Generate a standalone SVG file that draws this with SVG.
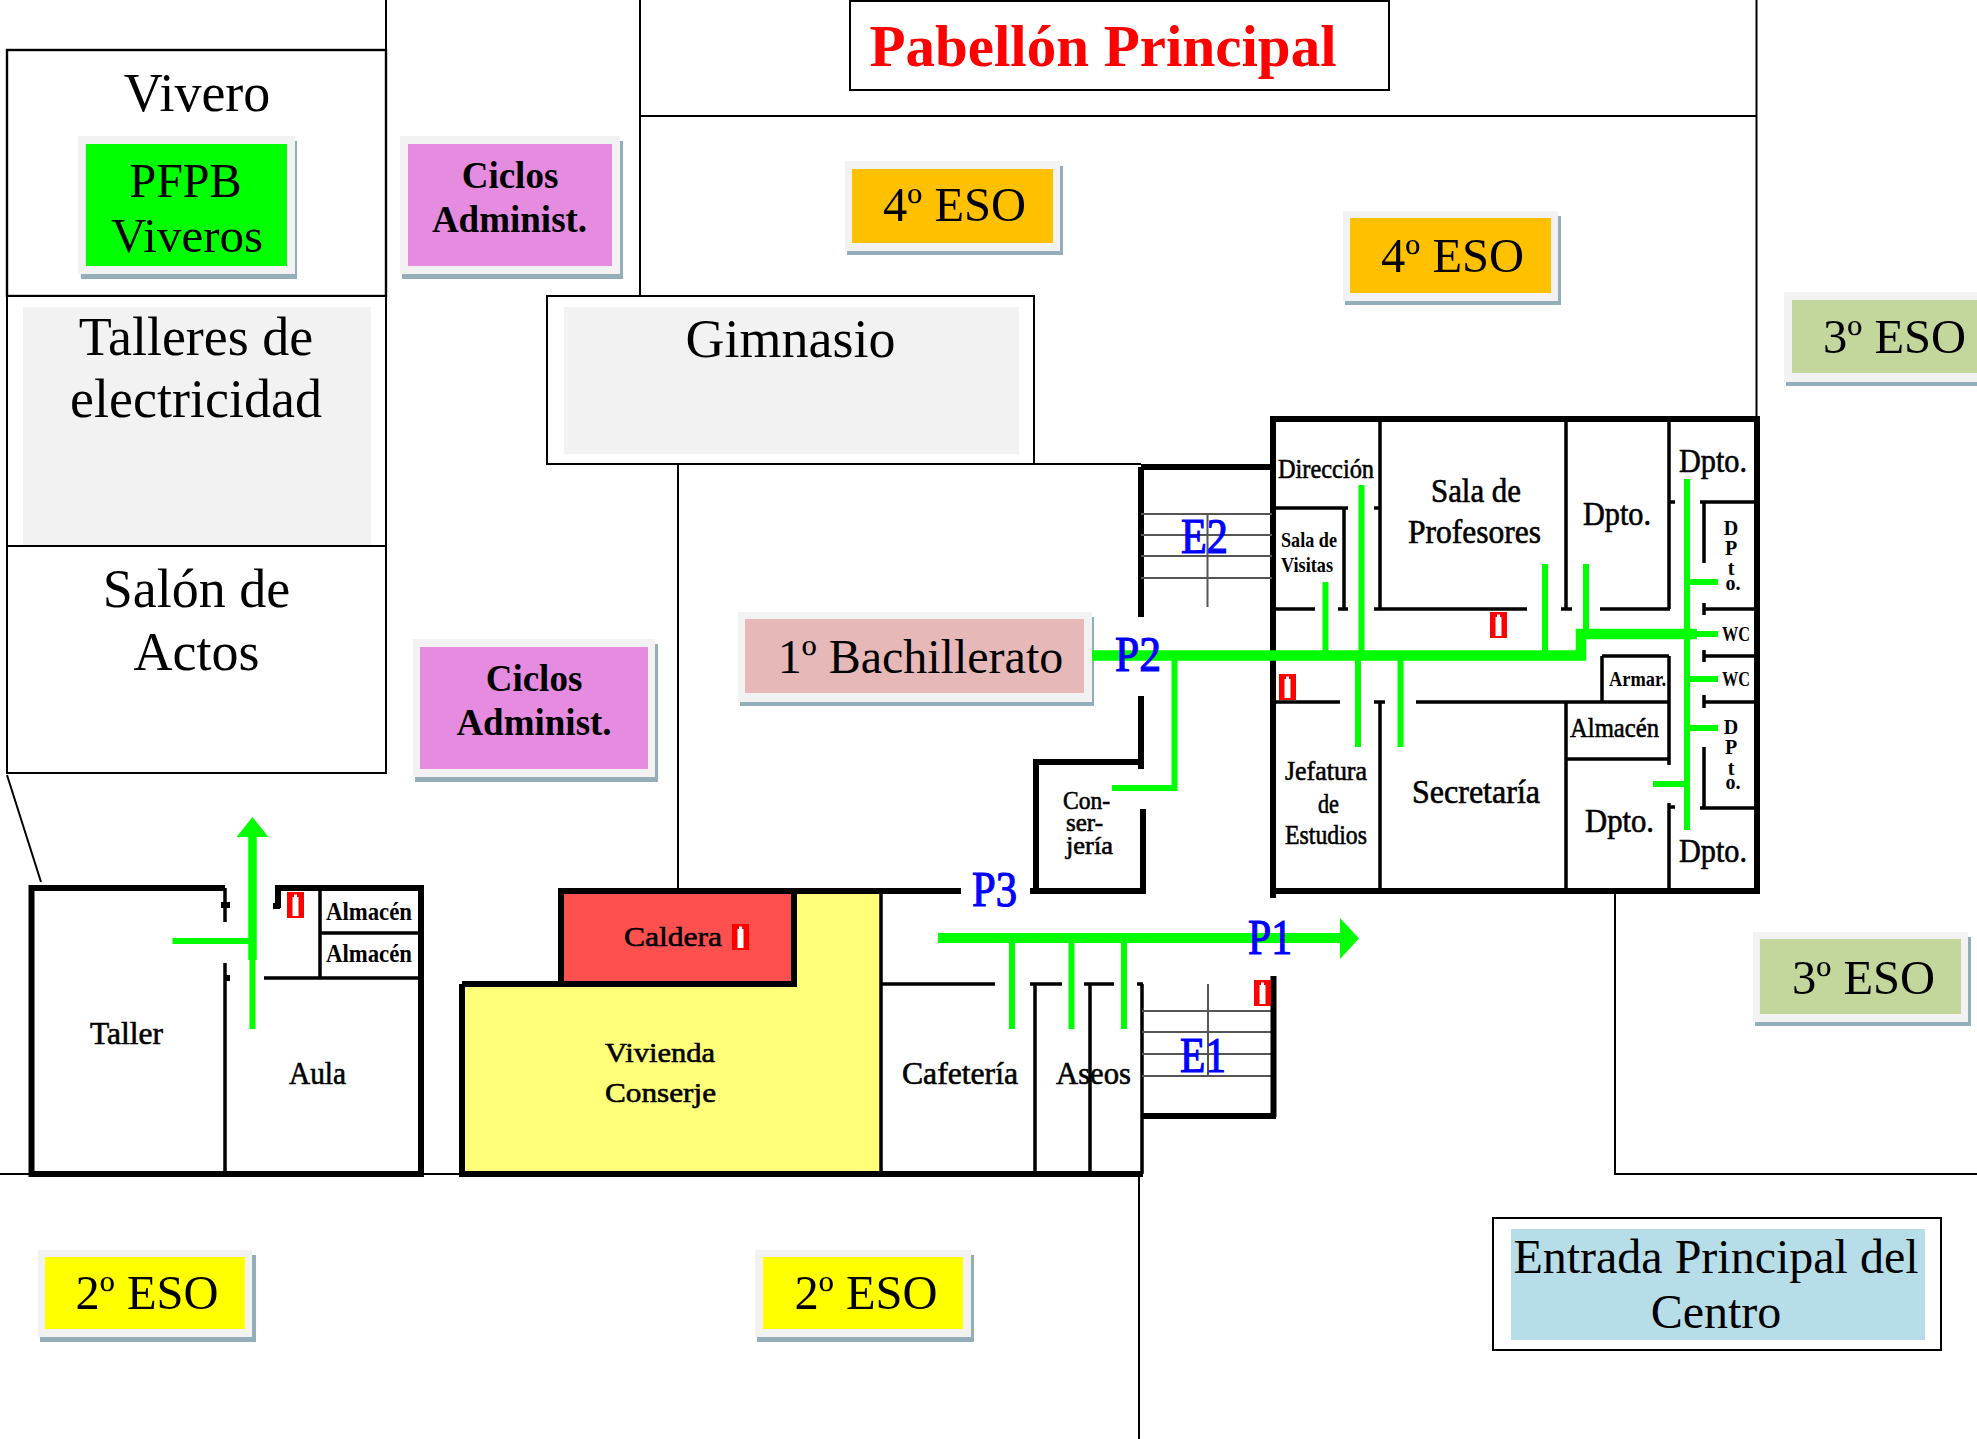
<svg xmlns="http://www.w3.org/2000/svg" width="1977" height="1439" viewBox="0 0 1977 1439">
<style>
text{font-family:"Liberation Serif","Times New Roman",serif;fill:#000}
.c{text-anchor:middle}
.b{font-weight:bold}
.big{font-size:54px}
.eso{font-size:48.5px;text-anchor:middle}
.ciclos{font-size:37px;font-weight:bold;text-anchor:middle}
.plan{font-size:28px;stroke:#000;stroke-width:.6}
.small{font-size:24px;font-weight:bold}
.blue{font-size:50px;fill:#0000ff;stroke:#0000ff;stroke-width:1.2}
.dp{font-size:20px;font-weight:bold;text-anchor:middle}
.line{fill:none;stroke:#000;stroke-width:2}
.wall{fill:none;stroke:#000;stroke-width:3.5}
.thick{fill:none;stroke:#000;stroke-width:6}
.step{fill:none;stroke:#555;stroke-width:2}
.g1{fill:none;stroke:#00ff00;stroke-width:6}
.g2{fill:none;stroke:#00ff00;stroke-width:10.5}
.frame{fill:#f2f2f2}
.shadow{fill:#93aeb9}
</style>
<defs>
<g id="ext"><rect x="0" y="0" width="17" height="26" fill="#ff0000"/><rect x="5.500" y="5" width="6" height="19" fill="#fff"/><rect x="7" y="2.500" width="3" height="3" fill="#fff"/></g>
</defs>
<rect width="1977" height="1439" fill="#fff"/>

<g id="site-lines">
<path class="line" d="M386 0V50M640 0V296M640 116H1756.500M1756.500 0V418M678 464V891M1034 464H1141M7 775L41 882M0 1174H31M421 1174H462M1139 1174V1439M1615 893V1174H1977"/>
</g>

<g id="pabellon">
<rect x="850" y="1" width="539" height="89" fill="#fff" stroke="#000" stroke-width="2"/>
<text class="b c" x="1103" y="66" font-size="59" style="fill:#ff0000">Pabellón Principal</text>
</g>

<g id="vivero">
<rect x="7" y="50" width="379" height="246" fill="#fff" stroke="#000" stroke-width="2.4"/>
<text class="c" x="197" y="111" font-size="54">Vivero</text>
</g>
<g id="pfpb">
<rect class="shadow" x="81" y="141" width="216" height="138"/><rect class="frame" x="78" y="136" width="217" height="138"/><rect x="86" y="144" width="201" height="122" fill="#00ff00"/>
<text class="c" x="185.500" y="197" font-size="48">PFPB</text><text class="c" x="187" y="252" font-size="49">Viveros</text>
</g>
<g id="talleres">
<rect x="7" y="296" width="379" height="250" fill="#fff" stroke="#000" stroke-width="2"/>
<rect class="frame" x="23" y="307" width="348" height="238"/>
<text class="big c" x="196" y="355">Talleres de</text><text class="big c" x="196" y="417">electricidad</text>
</g>
<g id="salon">
<rect x="7" y="546" width="379" height="227" fill="#fff" stroke="#000" stroke-width="2"/>
<text class="big c" x="196.500" y="606.500">Salón de</text><text class="big c" x="196.500" y="669.500">Actos</text>
</g>
<g id="ciclos-1">
<rect class="shadow" x="402" y="141" width="221" height="138"/><rect class="frame" x="400" y="136" width="220" height="138"/><rect x="408" y="144" width="204" height="122" fill="#e68ce0"/>
<text class="ciclos" x="510" y="188">Ciclos</text><text class="ciclos" x="509.500" y="232">Administ.</text>
</g>
<g id="ciclos-2">
<rect class="shadow" x="415" y="644" width="243" height="138"/><rect class="frame" x="413" y="639" width="242" height="138"/><rect x="420" y="647" width="228" height="122" fill="#e68ce0"/>
<text class="ciclos" x="534" y="691">Ciclos</text><text class="ciclos" x="534" y="735">Administ.</text>
</g>
<g id="gimnasio">
<rect x="547" y="296" width="487" height="168" fill="#fff" stroke="#000" stroke-width="2"/>
<rect class="frame" x="564" y="307" width="455" height="147"/>
<text class="big c" x="790.500" y="356.500">Gimnasio</text>
</g>
<g id="eso4-a">
<rect class="shadow" x="847" y="166" width="216" height="89"/><rect class="frame" x="845" y="161" width="215" height="90"/><rect x="852" y="169" width="201" height="74" fill="#ffc000"/>
<text class="eso" x="954.500" y="221">4º ESO</text>
</g>
<g id="eso4-b">
<rect class="shadow" x="1345" y="216" width="216" height="89"/><rect class="frame" x="1343" y="211" width="215" height="90"/><rect x="1350" y="218" width="201" height="75" fill="#ffc000"/>
<text class="eso" x="1452.500" y="271.500">4º ESO</text>
</g>
<g id="eso3-a">
<rect class="shadow" x="1786" y="297" width="191" height="89"/><rect class="frame" x="1784" y="292" width="193" height="90"/><rect x="1792" y="300" width="185" height="73" fill="#c3d69b"/>
<text class="eso" x="1894.500" y="353">3º ESO</text>
</g>
<g id="eso3-b">
<rect class="shadow" x="1755" y="937" width="216" height="89"/><rect class="frame" x="1753" y="932" width="215" height="90"/><rect x="1760" y="939" width="201" height="75" fill="#c3d69b"/>
<text class="eso" x="1863.500" y="993.500">3º ESO</text>
</g>
<g id="bachillerato">
<rect class="shadow" x="740" y="617" width="354" height="89"/><rect class="frame" x="738" y="612" width="354" height="90"/><rect x="745" y="619" width="339" height="74" fill="#e6b9b8"/>
<text class="c" x="920.500" y="673" font-size="48">1º Bachillerato</text>
</g>
<g id="eso2-a">
<rect class="shadow" x="40" y="1255" width="216" height="87"/><rect class="frame" x="38" y="1250" width="214" height="87"/><rect x="45" y="1257" width="200" height="72" fill="#ffff00"/>
<text class="eso" x="147" y="1308.500">2º ESO</text>
</g>
<g id="eso2-b">
<rect class="shadow" x="757" y="1255" width="217" height="87"/><rect class="frame" x="755" y="1250" width="216" height="87"/><rect x="763" y="1257" width="200" height="72" fill="#ffff00"/>
<text class="eso" x="866" y="1308.500">2º ESO</text>
</g>
<g id="entrada">
<rect x="1493" y="1218" width="448" height="132" fill="#fff" stroke="#000" stroke-width="2"/>
<rect x="1511" y="1229" width="414" height="111" fill="#b7dde8"/>
<text class="c" x="1716" y="1272.500" font-size="48">Entrada Principal del</text><text class="c" x="1716" y="1328" font-size="48">Centro</text>
</g>

<g id="taller-block">
<path class="thick" d="M225 888H31.500V1174H421V888H278V908"/>
<path class="wall" d="M225 888V922M225 963V1174M264 978H421M320 888V978M320 933H421"/>
<path class="thick" d="M221 905H230M225 978H230M273 906H280"/>
</g>
<g id="vivienda-caldera">
<path d="M462 984H561V891H881V1174H462Z" fill="#ffff79"/>
<path d="M561 984V891H794V984Z" fill="#ff5050"/>
<path class="thick" d="M561 984V891H961M1030 891H1143V809M1141 769V762H1036V891M462 984V1174H1143M462 984H794V891"/>
<path class="wall" d="M881 891V1174M881 984H995M1030 984H1062M1084 984H1114M1137 984H1143M1035 984V1172M1090 984V1172M1142 984V1174"/>
<path class="thick" d="M1141 467H1272M1141 467V617M1141 696V769"/>
</g>
<g id="office-block">
<path class="thick" d="M1273 419H1757V891H1273ZM1273 891V898"/>
<path class="wall" d="M1273 508H1348M1344 508V609M1374 508H1380M1380 419V609M1566 419V609M1669 419V609M1669 502H1675M1273 609H1315M1338 609H1348M1374 609H1527M1561 609H1572M1600 609H1670M1700 502H1757M1704 502V563M1704 603V615M1704 609H1757M1704 650V662M1704 656H1757M1704 695V708M1704 702H1757M1704 747V808M1700 808H1757M1669 803V891M1669 807H1675M1273 702H1340M1374 702H1385M1416 702H1669M1273 702V891M1380 702V891M1566 702V891M1566 759H1669M1669 702V765M1602 656V702M1602 656H1669M1669 656V702"/>
</g>
<g id="stairs">
<path class="step" d="M1141 514H1272M1141 535H1272M1141 556H1272M1141 578H1272M1207.500 514V607M1142 1011H1272M1142 1032H1272M1142 1054H1272M1142 1076H1272M1208 984V1076"/>
<path class="thick" d="M1273.500 976V1117M1142 1116H1276"/>
</g>

<g id="connectors">
<path class="g2" d="M1092 655.500H1581V634H1697"/>
<path class="g1" d="M1697 634H1718M1325.500 582V655M1361.500 485V655M1358 655V747M1400.500 655V747M1545 564V655M1586 564V634M1687 479V830M1687 582H1718M1687 679H1718M1687 728H1718M1653 784H1687M1174.500 655V788H1112"/>
<path class="g2" d="M938 938H1340" style="stroke-width:10"/>
<polygon points="1340,918 1359,938.500 1340,959" fill="#00ff00"/>
<path class="g1" d="M1012 938V1029M1071.500 938V1029M1124 938V1029"/>
<path class="g2" d="M252.500 837V960" style="stroke-width:8.500"/>
<polygon points="252.500,817 268.500,837 236.500,837" fill="#00ff00"/>
<path class="g1" d="M252.500 960V1029M172.500 941H250"/>
</g>

<g id="extinguishers">
<use href="#ext" x="287" y="892"/><use href="#ext" x="732" y="924"/><use href="#ext" x="1254" y="980"/><use href="#ext" x="1490" y="612"/><use href="#ext" x="1279" y="674"/>
</g>

<g id="plan-labels">
<text class="plan" x="1278" y="478" font-size="27" textLength="96" lengthAdjust="spacingAndGlyphs">Dirección</text>
<text class="plan" x="1431" y="502" style="font-size:33px" textLength="90" lengthAdjust="spacingAndGlyphs">Sala de</text>
<text class="plan" x="1408" y="543" style="font-size:33px" textLength="133" lengthAdjust="spacingAndGlyphs">Profesores</text>
<text class="plan" x="1583" y="525" style="font-size:33px" textLength="68" lengthAdjust="spacingAndGlyphs">Dpto.</text>
<text class="plan" x="1679" y="472" style="font-size:33px" textLength="68" lengthAdjust="spacingAndGlyphs">Dpto.</text>
<text class="small" x="1281" y="547" style="font-size:21px" textLength="56" lengthAdjust="spacingAndGlyphs">Sala de</text>
<text class="small" x="1281" y="572" style="font-size:21px" textLength="52" lengthAdjust="spacingAndGlyphs">Visitas</text>
<text class="dp" x="1731" y="535">D</text><text class="dp" x="1731" y="555">P</text><text class="dp" x="1731" y="575">t</text><text class="dp" x="1733" y="590">o.</text>
<text class="dp" x="1731" y="734">D</text><text class="dp" x="1731" y="754">P</text><text class="dp" x="1731" y="775">t</text><text class="dp" x="1733" y="789">o.</text>
<text class="small" x="1722" y="641" style="font-size:20px" textLength="28" lengthAdjust="spacingAndGlyphs">WC</text>
<text class="small" x="1722" y="686" style="font-size:20px" textLength="28" lengthAdjust="spacingAndGlyphs">WC</text>
<text class="small" x="1609" y="686" style="font-size:20px" textLength="57" lengthAdjust="spacingAndGlyphs">Armar.</text>
<text class="plan" x="1570" y="737" textLength="89" lengthAdjust="spacingAndGlyphs">Almacén</text>
<text class="plan" x="1285" y="780" textLength="82" lengthAdjust="spacingAndGlyphs">Jefatura</text>
<text class="plan" x="1318" y="813" textLength="21" lengthAdjust="spacingAndGlyphs">de</text>
<text class="plan" x="1285" y="844" textLength="82" lengthAdjust="spacingAndGlyphs">Estudios</text>
<text class="plan" x="1412" y="803" style="font-size:33px" textLength="128" lengthAdjust="spacingAndGlyphs">Secretaría</text>
<text class="plan" x="1585" y="832" style="font-size:33px" textLength="69" lengthAdjust="spacingAndGlyphs">Dpto.</text>
<text class="plan" x="1679" y="862" style="font-size:33px" textLength="68" lengthAdjust="spacingAndGlyphs">Dpto.</text>
<text class="plan" x="1063" y="809" style="font-size:25px" textLength="47" lengthAdjust="spacingAndGlyphs">Con-</text>
<text class="plan" x="1066" y="831" style="font-size:25px" textLength="37" lengthAdjust="spacingAndGlyphs">ser-</text>
<text class="plan" x="1066" y="854" style="font-size:25px" textLength="47" lengthAdjust="spacingAndGlyphs">jería</text>
<text class="plan" x="624" y="946" textLength="98" lengthAdjust="spacingAndGlyphs">Caldera</text>
<text class="plan" x="605" y="1062" textLength="110" lengthAdjust="spacingAndGlyphs">Vivienda</text>
<text class="plan" x="605" y="1102" textLength="111" lengthAdjust="spacingAndGlyphs">Conserje</text>
<text class="plan" x="902" y="1084" style="font-size:31px" textLength="116" lengthAdjust="spacingAndGlyphs">Cafetería</text>
<text class="plan" x="1056" y="1084" style="font-size:31px" textLength="75" lengthAdjust="spacingAndGlyphs">Aseos</text>
<text class="plan" x="90" y="1044" style="font-size:31px" textLength="73" lengthAdjust="spacingAndGlyphs">Taller</text>
<text class="plan" x="289" y="1084" style="font-size:31px" textLength="57" lengthAdjust="spacingAndGlyphs">Aula</text>
<text class="small" x="326" y="920" style="font-size:25px" textLength="86" lengthAdjust="spacingAndGlyphs">Almacén</text>
<text class="small" x="326" y="962" style="font-size:25px" textLength="86" lengthAdjust="spacingAndGlyphs">Almacén</text>
<text class="blue" x="1181" y="553" textLength="47" lengthAdjust="spacingAndGlyphs">E2</text>
<text class="blue" x="1115" y="671" textLength="46" lengthAdjust="spacingAndGlyphs">P2</text>
<text class="blue" x="1248" y="954" textLength="44" lengthAdjust="spacingAndGlyphs">P1</text>
<text class="blue" x="972" y="906" textLength="45" lengthAdjust="spacingAndGlyphs">P3</text>
<text class="blue" x="1180" y="1072" textLength="46" lengthAdjust="spacingAndGlyphs">E1</text>
</g>
</svg>
